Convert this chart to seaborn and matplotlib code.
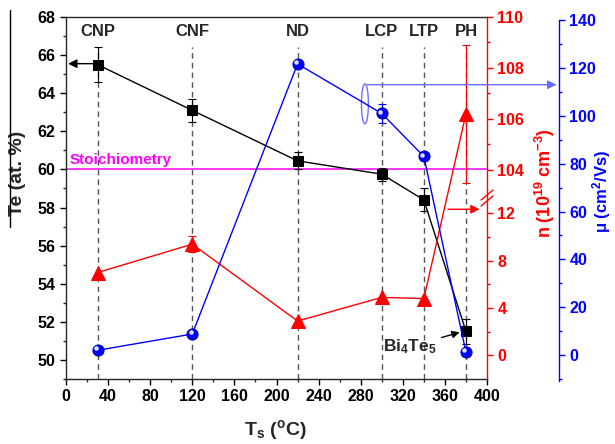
import numpy as np
import pandas as pd
import matplotlib
matplotlib.use("Agg")
import matplotlib.pyplot as plt
import seaborn as sns
from matplotlib.patches import Ellipse
from matplotlib.lines import Line2D
from matplotlib.ticker import MultipleLocator, FixedLocator, FuncFormatter
from matplotlib.transforms import ScaledTranslation

# ---------------- data ----------------
ts = [30, 120, 220, 300, 340, 380]
phases = ["CNP", "CNF", "ND", "LCP", "LTP", "PH"]
te = [65.5, 63.1, 60.45, 59.75, 58.4, 51.5]
te_err = [0.9, 0.6, 0.45, 0.35, 0.6, 0.65]
n_vals = [7.0, 9.4, 2.9, 4.9, 4.8, 106.2]
n_err = [0.0, 0.7, 0.0, 0.0, 0.0, 2.7]
mu = [2.0, 8.8, 121.7, 101.0, 83.0, 1.2]
mu_err = [0.0, 0.0, 0.0, 3.8, 0.0, 0.0]
x_ticks = [0, 40, 80, 120, 160, 200, 240, 280, 320, 360, 400]
te_ticks = [50, 52, 54, 56, 58, 60, 62, 64, 66, 68]
n_ticks = [0, 4, 8, 12, 104, 106, 108, 110]
n_minor = [2, 6, 10, 105, 107, 109]
mu_ticks = [0, 20, 40, 60, 80, 100, 120, 140]
stoich = 60

# ---------------- style ----------------
sns.set_style("ticks")
plt.rcParams["font.family"] = ["Liberation Sans", "DejaVu Sans"]
plt.rcParams["font.weight"] = "bold"
plt.rcParams["axes.labelweight"] = "bold"
plt.rcParams["mathtext.default"] = "regular"
plt.rcParams["axes.linewidth"] = 1.0

fig = plt.figure(figsize=(6.15, 4.44), dpi=100)
ax = fig.add_axes([66 / 615, 1 - 379 / 444, 421 / 615, 362 / 444])
axr = ax.twinx()
axb = ax.twinx()

df = pd.DataFrame({"Ts": ts, "Te": te, "n": n_vals, "mu": mu})

# ---- black: Te ----
ax.vlines(ts, 49, 66.4, colors="#555555", linestyles=(0, (4, 3)), lw=1, zorder=1)
ax.axhline(stoich, color="#ff00ff", lw=1.1, zorder=2)
sns.lineplot(data=df, x="Ts", y="Te", ax=ax, color="black", lw=1, marker="s",
             markersize=6.5, markeredgecolor="black", errorbar=None, sort=False, zorder=4)
ax.errorbar(ts, te, yerr=te_err, fmt="none", ecolor="black", elinewidth=0.8,
            capsize=3, capthick=0.8, zorder=3)
ax.set_xlim(0, 400)
ax.set_ylim(49, 68)
ax.xaxis.set_major_locator(FixedLocator(x_ticks))
ax.xaxis.set_minor_locator(MultipleLocator(20))
ax.yaxis.set_major_locator(FixedLocator(te_ticks))
ax.yaxis.set_minor_locator(MultipleLocator(1))
ax.tick_params(axis="both", which="major", length=4, width=1, direction="out",
               labelsize=11.5, colors="black")
ax.tick_params(axis="both", which="minor", length=2.5, width=1, direction="out")
ax.spines["right"].set_visible(False)
ax.set_xlabel("T$_s$ ($^o$C)", fontsize=14, fontweight="bold")
ax.set_ylabel("Te (at. %)", fontsize=14, fontweight="bold")
ax.xaxis.set_label_coords(0.497, -0.141)
ax.xaxis.label.set_va("center")
ax.yaxis.set_label_coords(-0.116, 0.567)
ax.yaxis.label.set_va("center")

for x, p in zip(ts, phases):
    ax.text(x, 67.25, p, ha="center", va="center", fontsize=12, fontweight="bold")
ax.text(3, 60.15, "Stoichiometry", color="#ff00ff", fontsize=11,
        fontweight="bold", ha="left", va="bottom")
ax.annotate("", xy=(2, 65.55), xytext=(27, 65.55),
            arrowprops=dict(arrowstyle="-|>", color="black", lw=1,
                            shrinkA=0, shrinkB=0, mutation_scale=13))
ax.annotate("Bi$_4$Te$_5$", xy=(374, 51.45), xytext=(327, 50.7),
            ha="center", va="center", fontsize=12.5, fontweight="bold",
            arrowprops=dict(arrowstyle="-|>", color="black", lw=1,
                            shrinkA=1, shrinkB=0, mutation_scale=11))

# ---- red: n (broken axis) ----
xp = [-50.0, 13.3, 102.9, 200.0]
fp = [-48 * 11.83, 181.0, 181.01, 209 + 96 * 25.5]


def fwd(v):
    return np.interp(v, xp, fp)


def inv(v):
    return np.interp(v, fp, xp)


sns.lineplot(data=df, x="Ts", y="n", ax=axr, color="red", lw=1, marker="^",
             markersize=10, markeredgecolor="red", errorbar=None, sort=False, zorder=4)
axr.set_yscale("function", functions=(fwd, inv))
ne_x = [x for x, e in zip(ts, n_err) if e > 0]
ne_y = [y for y, e in zip(n_vals, n_err) if e > 0]
ne_e = [e for e in n_err if e > 0]
axr.errorbar(ne_x, ne_y, yerr=ne_e, fmt="none", ecolor="red", elinewidth=0.8,
             capsize=3, capthick=0.8, zorder=3)
axr.set_ylim(-2, 110)
axr.yaxis.set_major_locator(FixedLocator(n_ticks))
axr.yaxis.set_minor_locator(FixedLocator(n_minor))
axr.yaxis.set_major_formatter(FuncFormatter(lambda v, p: f"{v:g}"))
axr.yaxis.set_minor_formatter(FuncFormatter(lambda v, p: ""))
axr.tick_params(axis="y", which="major", length=4, width=1, direction="out",
                labelsize=11.5, colors="red")
axr.tick_params(axis="y", which="minor", length=2.5, width=1, direction="out", colors="red")
for s in ["left", "top", "bottom"]:
    axr.spines[s].set_visible(False)
axr.spines["right"].set_color("red")
axr.set_ylabel("n (10$^{19}$ cm$^{-3}$)", fontsize=13, fontweight="bold", color="red")
axr.yaxis.set_label_coords(1.138, 0.541)
axr.yaxis.label.set_va("center")
axr.annotate("", xy=(393, 12.35), xytext=(363, 12.35),
             arrowprops=dict(arrowstyle="-|>", color="red", lw=1,
                             shrinkA=0, shrinkB=0, mutation_scale=13),
             annotation_clip=False)
# break marks
yb = (379 - 198) / 362
for dy in (-3.0, 3.0):
    axr.add_line(Line2D([1 - 6 / 421, 1 + 6 / 421],
                        [yb + (dy - 5) / 362, yb + (dy + 5) / 362],
                        transform=axr.transAxes, color="red", lw=1, clip_on=False))

# ---- blue: mobility ----
sns.lineplot(data=df, x="Ts", y="mu", ax=axb, color="blue", lw=1, marker="o",
             markersize=8, markeredgecolor="#0000b0", errorbar=None, sort=False, zorder=4)
shine = axb.transData + ScaledTranslation(-0.018, 0.018, fig.dpi_scale_trans)
axb.plot(ts, mu, "o", ms=2.3, color="white", alpha=0.8, transform=shine, zorder=5)
me_x = [x for x, e in zip(ts, mu_err) if e > 0]
me_y = [y for y, e in zip(mu, mu_err) if e > 0]
me_e = [e for e in mu_err if e > 0]
axb.errorbar(me_x, me_y, yerr=me_e, fmt="none", ecolor="blue", elinewidth=0.8,
             capsize=3, capthick=0.8, zorder=3)
axb.set_ylim(-10, 141.3)
axb.yaxis.set_major_locator(FixedLocator(mu_ticks))
axb.yaxis.set_minor_locator(MultipleLocator(10))
axb.tick_params(axis="y", which="major", length=4, width=1, direction="out",
                labelsize=11.5, colors="blue")
axb.tick_params(axis="y", which="minor", length=2.5, width=1, direction="out", colors="blue")
for s in ["left", "top", "bottom"]:
    axb.spines[s].set_visible(False)
axb.spines["right"].set_position(("axes", 493 / 421))
axb.spines["right"].set_color("blue")
axb.spines["right"].set_bounds(-11, 140)
axb.set_ylabel("μ (cm$^2$/Vs)", fontsize=12, fontweight="bold", color="blue")
axb.yaxis.set_label_coords(1.272, 0.517)
axb.yaxis.label.set_va("center")
axb.add_patch(Ellipse((284, 105), width=6.6, height=16.7, fill=False,
                      edgecolor="#7070ff", lw=1))
axb.annotate("", xy=(466, 113), xytext=(286, 113),
             arrowprops=dict(arrowstyle="-|>", color="#6a6aff", lw=1,
                             shrinkA=0, shrinkB=0, mutation_scale=13),
             annotation_clip=False)

# left border line of original figure
fig.add_artist(Line2D([10 / 615, 10 / 615], [1 - 10 / 444, 1 - 227 / 444],
                      color="black", lw=1))

fig.savefig("out.png", dpi=100)
